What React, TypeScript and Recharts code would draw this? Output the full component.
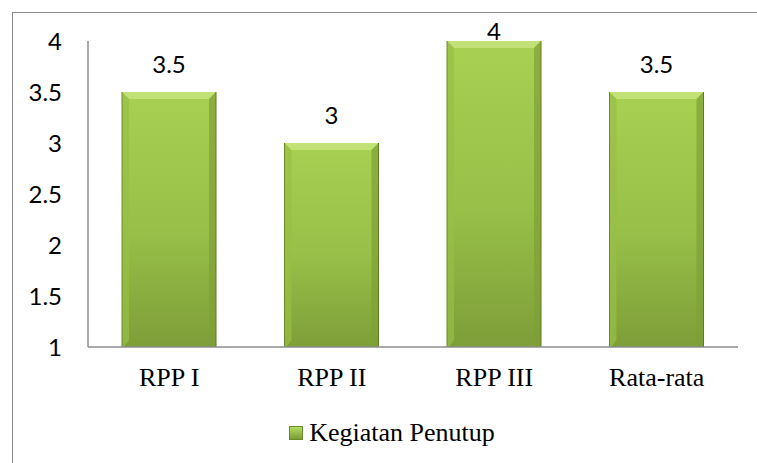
import { BarChart, Bar, XAxis, YAxis, Legend, LabelList } from "recharts";

const categories = ["RPP I", "RPP II", "RPP III", "Rata-rata"];
const kegiatanPenutup = [3.5, 3, 4, 3.5];
const yTicks = [1, 1.5, 2, 2.5, 3, 3.5, 4];
const seriesName = "Kegiatan Penutup";

const data = categories.map((name, i) => ({
  name,
  value: kegiatanPenutup[i],
}));

const SANS = "Lato, sans-serif";
const SERIF = "\"Times New Roman\", \"Liberation Serif\", Tinos, serif";

// bar with a bevelled edge like the Excel style
const BevelBar = (props: any) => {
  const { x, y, width, height } = props;
  if (!height || height <= 0) return null;
  const b = 7;
  return (
    <g>
      <rect x={x} y={y} width={width} height={height + 3} fill="url(#barFill)" />
      <polygon
        points={`${x},${y} ${x + width},${y} ${x + width - b},${y + b} ${x + b},${y + b}`}
        fill="#c2e277"
      />
      <polygon
        points={`${x},${y} ${x + b},${y + b} ${x + b},${y + height - b} ${x},${y + height + 3}`}
        fill="#98bf45"
        opacity={0.7}
      />
      <polygon
        points={`${x + width},${y} ${x + width - b},${y + b} ${x + width - b},${y + height - b} ${x + width},${y + height + 3}`}
        fill="#7f9f35"
        opacity={0.7}
      />
      <line x1={x} y1={y} x2={x} y2={y + height + 3} stroke="#6b8a2a" strokeWidth={1} />
      <line x1={x + width} y1={y} x2={x + width} y2={y + height + 3} stroke="#5f7c24" strokeWidth={1} />
    </g>
  );
};

const ValueLabel = (props: any) => {
  const { x, y, width, value } = props;
  const ty = Math.max(y - 19, 40);
  return (
    <text
      x={x + width / 2}
      y={ty}
      textAnchor="middle"
      style={{ fontFamily: SANS, fontSize: 24 }}
      fill="#000"
    >
      {value}
    </text>
  );
};

const LegendBox = () => (
  <div
    style={{
      display: "flex",
      alignItems: "center",
      justifyContent: "center",
      paddingTop: 21,
      paddingLeft: 46,
      fontFamily: SERIF,
      fontSize: 26,
      color: "#000",
    }}
  >
    <span
      style={{
        display: "inline-block",
        width: 14,
        height: 14,
        marginRight: 6,
        background: "linear-gradient(#b5dc62, #7a9c35)",
        border: "1px solid #6b8a2a",
        boxSizing: "border-box",
      }}
    />
    {seriesName}
  </div>
);

const App = () => {
  return (
    <div
      style={{
        position: "absolute",
        left: 0,
        top: 0,
        width: 757,
        height: 463,
        overflow: "hidden",
        background: "#fff",
      }}
    >
      <div
        style={{
          position: "absolute",
          left: 12,
          top: 12,
          width: 800,
          height: 500,
          border: "1.5px solid #8c8c8c",
        }}
      />
      <div style={{ position: "absolute", left: 0, top: 0 }}>
        <BarChart
          width={757}
          height={463}
          data={data}
          margin={{ top: 41, right: 19, bottom: 0, left: 0 }}
        >
          <defs>
            <linearGradient id="barFill" x1="0" y1="0" x2="0" y2="1">
              <stop offset="0%" stopColor="#a8d052" />
              <stop offset="55%" stopColor="#98bf48" />
              <stop offset="100%" stopColor="#7d9d38" />
            </linearGradient>
          </defs>
          <XAxis
            dataKey="name"
            height={50}
            tickLine={false}
            tickSize={0}
            tickMargin={21}
            axisLine={{ stroke: "#8c8c8c", strokeWidth: 1.5 }}
            tick={{ style: { fontFamily: SERIF, fontSize: 26 }, fill: "#000" }}
            interval={0}
          />
          <YAxis
            width={88}
            domain={[1, 4]}
            ticks={yTicks}
            tickLine={false}
            tickSize={0}
            tickMargin={26}
            axisLine={{ stroke: "#8c8c8c", strokeWidth: 1.5 }}
            tick={{ style: { fontFamily: SANS, fontSize: 24 }, fill: "#000" }}
            allowDataOverflow
          />
          <Legend verticalAlign="bottom" height={66} content={<LegendBox />} />
          <Bar
            dataKey="value"
            name={seriesName}
            barSize={94}
            shape={<BevelBar />}
            isAnimationActive={false}
          >
            <LabelList dataKey="value" content={<ValueLabel />} />
          </Bar>
        </BarChart>
      </div>
    </div>
  );
};

export default App;
